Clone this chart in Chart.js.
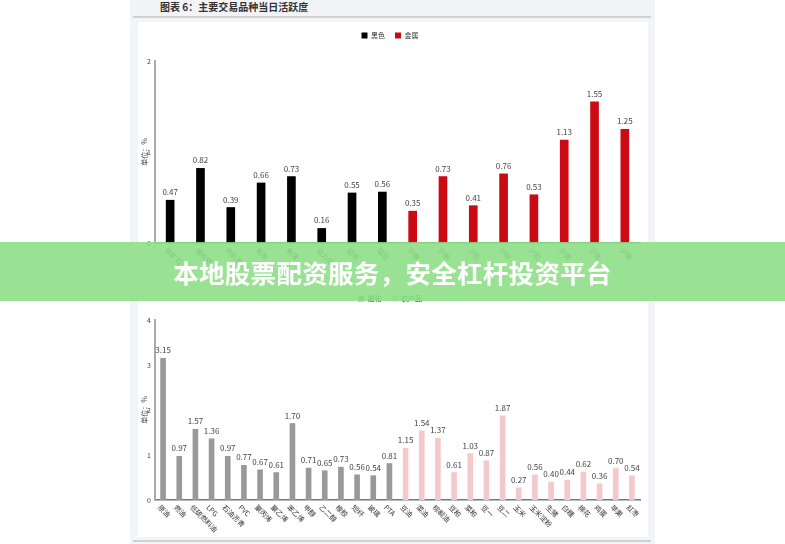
<!DOCTYPE html>
<html>
<head>
<meta charset="utf-8">
<script src="https://cdn.jsdelivr.net/npm/chart.js@4/dist/chart.umd.min.js"></script>
<style>
  body { margin: 0; width: 785px; height: 544px; background: #fff; position: relative; overflow: hidden; font-family: "Noto Sans CJK SC", sans-serif; }
  #doc { position: absolute; left: 130px; top: 0; width: 525px; height: 544px; background: #f3f4f8; }
  #title { position: absolute; left: 160px; top: -1px; font-size: 10px; font-weight: bold; color: #333; }
  #rule1 { position: absolute; left: 133px; top: 16px; width: 518px; height: 2px; background: #cfd0d4; }
  #rule2 { position: absolute; left: 133px; top: 540px; width: 518px; height: 2px; background: #cfd0d4; }
  #panel { position: absolute; left: 138px; top: 22px; width: 510px; height: 515px; background: #fff; }
  .box { position: absolute; left: 138px; width: 510px; }
  #banner { position: absolute; left: 0; top: 242px; width: 785px; height: 59px; background: rgba(140, 222, 132, 0.88);
            color: #fff; font-size: 25.5px; font-weight: bold; text-align: center; line-height: 60px; letter-spacing: 0.3px; }
</style>
</head>
<body>
<div id="doc"></div>
<div id="title">图表 6：主要交易品种当日活跃度</div>
<div id="rule1"></div>
<div id="panel"></div>
<div class="box" style="top:18px;height:269px"><canvas id="topChart"></canvas></div>
<div class="box" style="top:281px;height:256px"><canvas id="bottomChart"></canvas></div>
<div id="rule2"></div>
<div id="banner">本地股票配资服务，安全杠杆投资平台</div>

<script>
"use strict"

// 上图：黑色 + 金属
const blackNames = ['铁矿石', '螺纹钢', '热轧卷板', '焦炭', '焦煤', '动力煤', '硅铁', '锰硅'];
const blackValues = [0.47, 0.82, 0.39, 0.66, 0.73, 0.16, 0.55, 0.56];
const metalNames = ['沪镍', '沪铜', '沪铝', '沪锌', '沪铅', '沪锡', '沪金', '沪银'];
const metalValues = [0.35, 0.73, 0.41, 0.76, 0.53, 1.13, 1.55, 1.25];

// 下图：能化 + 农产品
const energyNames = ['原油', '燃油', '低硫燃料油', 'LPG', '石油沥青', 'PVC', '聚丙烯', '聚乙烯', '苯乙烯', '甲醇', '乙二醇', '橡胶', '短纤', '玻璃', 'PTA'];
const energyValues = [3.15, 0.97, 1.57, 1.36, 0.97, 0.77, 0.67, 0.61, 1.70, 0.71, 0.65, 0.73, 0.56, 0.54, 0.81];
const agriNames = ['豆油', '菜油', '棕榈油', '豆粕', '菜粕', '豆一', '豆二', '玉米', '玉米淀粉', '生猪', '白糖', '棉花', '鸡蛋', '苹果', '红枣'];
const agriValues = [1.15, 1.54, 1.37, 0.61, 1.03, 0.87, 1.87, 0.27, 0.56, 0.40, 0.44, 0.62, 0.36, 0.70, 0.54];

const topTicks = [0, 1, 2];
const bottomTicks = [0, 1, 2, 3, 4];

const FONT = '"Noto Sans CJK SC", sans-serif';

// 数值标签 + 斜向类别标签
const labelPlugin = {
    id: 'labelPlugin',
    afterDatasetsDraw(chart) {
        const ctx = chart.ctx;
        ctx.save();
        ctx.font = '8px ' + FONT;
        ctx.fillStyle = '#444';
        ctx.textAlign = 'center';
        ctx.textBaseline = 'bottom';
        chart.data.datasets.forEach((ds, di) => {
            chart.getDatasetMeta(di).data.forEach((bar, i) => {
                if (ds.data[i] == null) return;
                ctx.fillText(ds.data[i].toFixed(2), bar.x, bar.y - 4);
            });
        });
        const x = chart.scales.x;
        ctx.font = '7px ' + FONT;
        ctx.fillStyle = '#333';
        ctx.textAlign = 'left';
        ctx.textBaseline = 'middle';
        chart.data.labels.forEach((lab, i) => {
            const px = x.getPixelForTick(i);
            ctx.save();
            ctx.translate(px - 4, x.top + 6);
            ctx.rotate(Math.PI / 4);
            ctx.fillText(lab, 0, 0);
            ctx.restore();
        });
        ctx.restore();
    }
};

function buildChart(id, names1, vals1, col1, lbl1, names2, vals2, col2, lbl2, ticks, barW, legendGap, xHeight) {
    const labels = names1.concat(names2);
    const d1 = vals1.concat(names2.map(() => null));
    const d2 = names1.map(() => null).concat(vals2);
    new Chart(document.getElementById(id), {
        type: 'bar',
        data: {
            labels: labels,
            datasets: [
                { label: lbl1, data: d1, backgroundColor: col1, barThickness: barW, grouped: false },
                { label: lbl2, data: d2, backgroundColor: col2, barThickness: barW, grouped: false }
            ]
        },
        options: {
            responsive: true,
            maintainAspectRatio: false,
            animation: false,
            layout: { padding: { left: 2, right: 8, top: 4, bottom: 0 } },
            plugins: {
                legend: {
                    position: 'top',
                    labels: { boxWidth: 6, boxHeight: 6, font: { size: 7, family: FONT }, color: '#333', padding: 10 }
                },
                tooltip: { enabled: false }
            },
            scales: {
                x: {
                    grid: { display: false, drawTicks: false },
                    border: { color: '#777', width: 1.5 },
                    ticks: { display: false },
                    afterFit(s) { s.height = xHeight; }
                },
                y: {
                    min: ticks[0],
                    max: ticks[ticks.length - 1],
                    afterBuildTicks(s) { s.ticks = ticks.map(v => ({ value: v })); },
                    grid: { display: false, tickLength: 3, drawOnChartArea: false, color: '#999' },
                    border: { color: '#aaa', width: 2 },
                    ticks: { font: { size: 7, family: FONT }, color: '#444', padding: 1 },
                    title: { display: true, text: '单位：%', font: { size: 7, family: FONT }, color: '#444', padding: 0 },
                    afterFit(s) { s.width = 15; }
                }
            }
        },
        plugins: [labelPlugin, {
            id: 'legendGap',
            beforeInit(chart) {
                const fit = chart.legend.fit;
                chart.legend.fit = function () { fit.bind(this)(); this.height += legendGap; };
            }
        }]
    });
}

buildChart('topChart', blackNames, blackValues, '#000000', '黑色', metalNames, metalValues, '#cc0a14', '金属',
    topTicks, 8, 12, 44);
buildChart('bottomChart', energyNames, energyValues, '#999999', '能化', agriNames, agriValues, '#f5c8cb', '农产品',
    bottomTicks, 5, 8, 37);
</script>
</body>
</html>
